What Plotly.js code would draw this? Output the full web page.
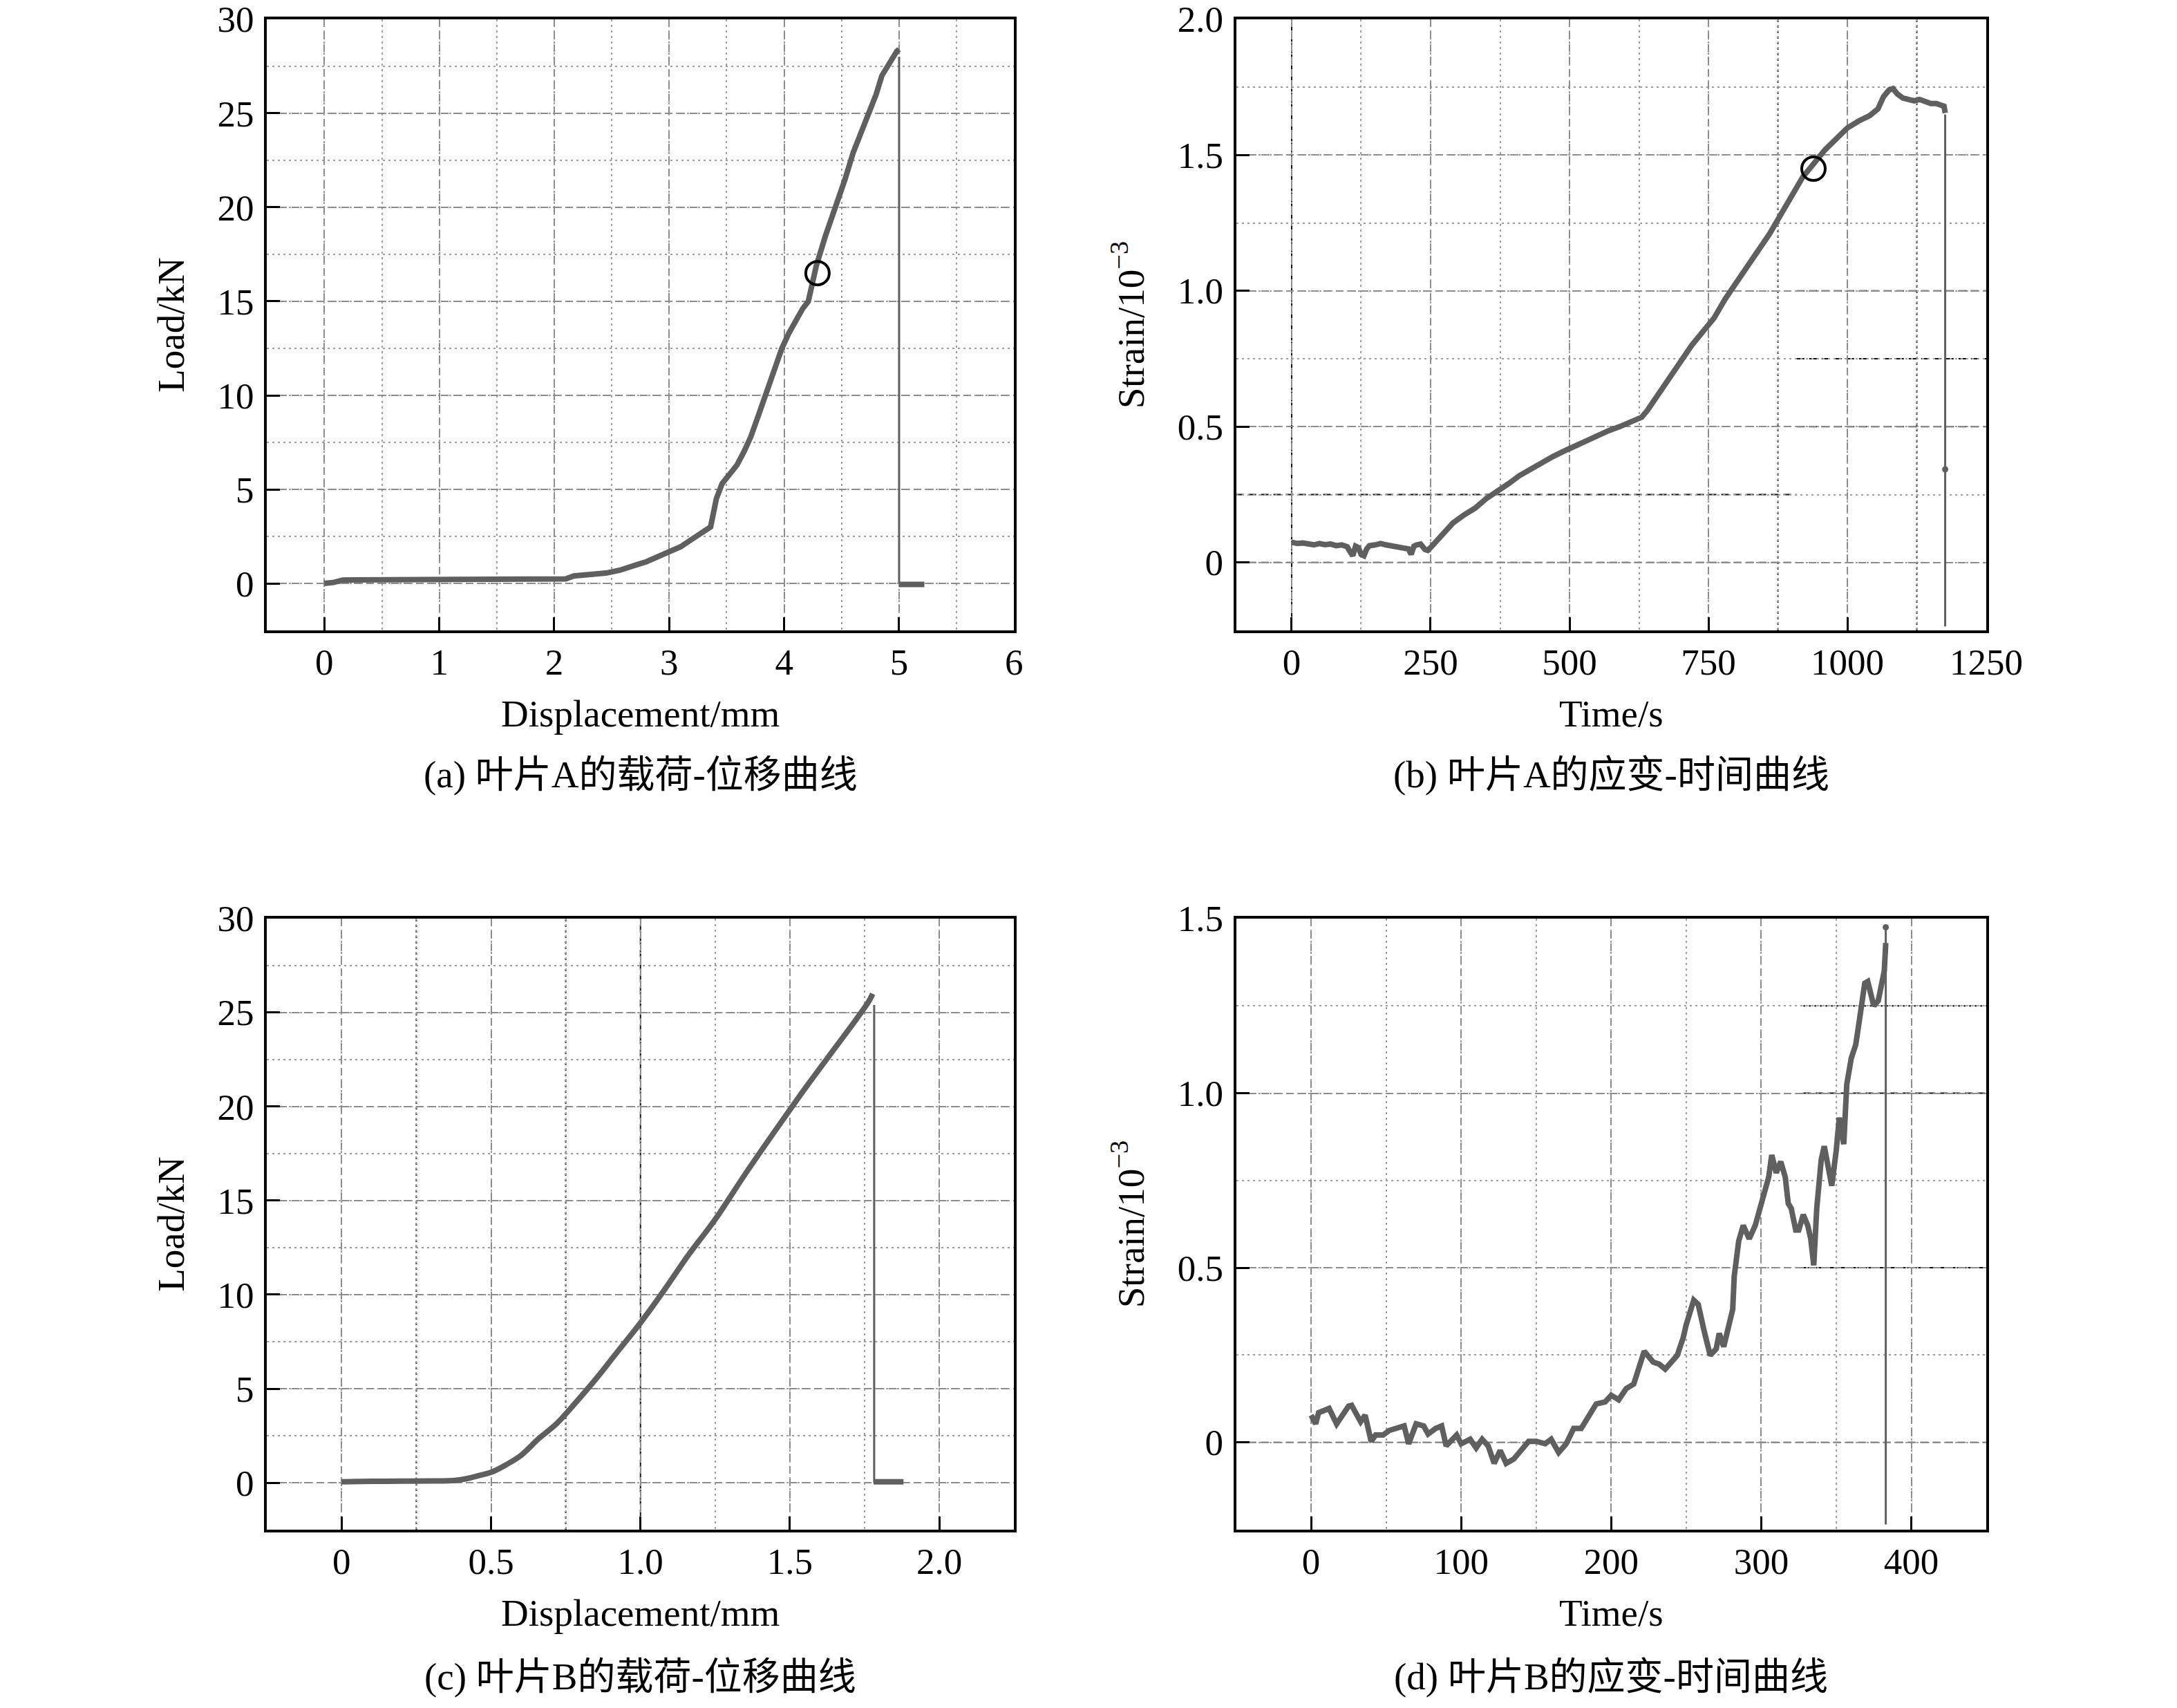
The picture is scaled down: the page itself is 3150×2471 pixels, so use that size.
<!DOCTYPE html>
<html>
<head>
<meta charset="utf-8">
<script src="https://cdn.plot.ly/plotly-3.0.1.min.js"></script>
<style>
  html, body { margin: 0; padding: 0; background: #fff; }
  #chart { width: 3150px; height: 2471px; }
</style>
</head>
<body>
<div id="chart"></div>
<script>
// (a) blade A load-displacement
const dispA = [0, 0.08, 0.16, 0.4, 0.8, 1.2, 1.6, 2.0, 2.1, 2.17, 2.3, 2.45, 2.57, 2.65, 2.72, 2.8, 2.9,
  3.02, 3.1, 3.16, 3.25, 3.36, 3.38, 3.41, 3.46, 3.52, 3.59, 3.65, 3.71, 3.78, 3.86, 3.92, 3.98, 4.04, 4.1,
  4.16, 4.21, 4.24, 4.28, 4.36, 4.45, 4.53, 4.6, 4.67, 4.73, 4.8, 4.85, 4.9, 4.95, 4.98, 5.0];
const loadA = [0, 0.05, 0.18, 0.18, 0.2, 0.2, 0.2, 0.2, 0.24, 0.4, 0.45, 0.55, 0.7, 0.82, 1.0, 1.15, 1.4,
  1.7, 1.95, 2.2, 2.6, 3.0, 3.6, 4.5, 5.3, 5.8, 6.3, 7.0, 7.8, 9.0, 10.4, 11.5, 12.5, 13.3, 14.0,
  14.6, 15.0, 15.8, 16.9, 18.5, 20.0, 21.5, 22.9, 24.0, 25.0, 26.0, 27.0, 27.5, 28.1, 28.3, 28.4];
const dropDispA = [5.0, 5.0];
const dropLoadA = [28.0, 0];
const afterDispA = [5.0, 5.22];
const afterLoadA = [-0.05, -0.05];
const markDispA = [4.29];
const markLoadA = [16.5];

// (b) blade A strain-time
const timeA = [0, 10, 20, 30, 40, 50, 60, 70, 80, 90, 100, 105, 110, 115, 120, 125, 130, 135, 140,
  150, 160, 170, 180, 190, 200, 210, 215, 220, 225, 232, 240, 245, 250,
  270, 290, 310, 330, 350, 370, 390, 410, 430, 450, 470, 490, 510, 530, 550, 570, 590, 610, 630, 640,
  660, 680, 700, 720, 740, 760, 780, 800, 820, 840, 860, 880, 900, 920, 940, 960, 980, 1000, 1020, 1040,
  1055, 1065, 1075, 1082, 1090, 1100, 1110, 1120, 1130, 1140, 1150, 1160, 1170, 1174, 1176];
const strainA = [0.075, 0.07, 0.072, 0.068, 0.065, 0.07, 0.066, 0.068, 0.062, 0.065, 0.058, 0.04, 0.025, 0.06, 0.055, 0.03, 0.025, 0.05, 0.062,
  0.065, 0.07, 0.065, 0.062, 0.06, 0.058, 0.05, 0.03, 0.06, 0.065, 0.068, 0.048, 0.045, 0.055,
  0.1, 0.145, 0.175, 0.2, 0.235, 0.26, 0.29, 0.32, 0.345, 0.37, 0.39, 0.41, 0.43, 0.45, 0.47, 0.485, 0.5, 0.515, 0.535, 0.56,
  0.62, 0.68, 0.745, 0.8, 0.85, 0.9, 0.97, 1.03, 1.09, 1.15, 1.21, 1.28, 1.35, 1.42, 1.47, 1.52, 1.56, 1.6, 1.625, 1.645,
  1.67, 1.715, 1.74, 1.745, 1.725, 1.71, 1.705, 1.7, 1.705, 1.695, 1.69, 1.69, 1.685, 1.68, 1.655];
const dropTimeA = [1176, 1176];
const dropStrainA = [1.65, -0.235];
const dotTimeA = [1176];
const dotStrainA = [0.343];
const markTimeA = [939];
const markStrainA = [1.45];

// (c) blade B load-displacement
const dispB = [0, 0.1, 0.2, 0.3, 0.38, 0.42, 0.46, 0.5, 0.55, 0.6, 0.66, 0.72, 0.78, 0.85, 0.92,
  1.0, 1.08, 1.16, 1.25, 1.35, 1.45, 1.55, 1.65, 1.72, 1.764, 1.777];
const loadB = [0.05, 0.07, 0.08, 0.09, 0.12, 0.22, 0.38, 0.55, 0.95, 1.45, 2.35, 3.15, 4.2, 5.5, 6.9,
  8.5, 10.25, 12.1, 14.0, 16.4, 18.7, 20.95, 23.1, 24.6, 25.6, 26.0];
const dropDispB = [1.782, 1.782];
const dropLoadB = [25.4, 0];
const afterDispB = [1.78, 1.88];
const afterLoadB = [0.05, 0.05];

// (d) blade B strain-time
const timeB = [0, 3, 5, 10, 12, 17, 20, 25, 27, 30, 33, 36, 40, 43, 48, 52, 58, 62, 65, 70,
  75, 78, 83, 87, 90, 97, 100, 106, 110, 114, 118, 122, 126, 130, 135, 140, 145, 150, 156, 160,
  165, 170, 175, 180, 185, 190, 196, 200, 205, 210, 215, 220, 222, 228, 232, 236, 240, 244, 248, 250,
  255, 258, 262, 266, 270, 272, 275, 279, 281, 282, 285, 288, 292, 296, 300, 305, 307, 310, 313, 316,
  318, 320, 323, 325, 328, 331, 333, 335, 337, 340, 342, 345, 347, 350, 352, 355, 357, 360, 363, 366,
  369, 371, 373, 375, 378, 380, 382, 383];
const strainB = [0.078, 0.053, 0.085, 0.091, 0.097, 0.053, 0.072, 0.104, 0.106, 0.085, 0.059, 0.078, 0.003, 0.021, 0.021, 0.034, 0.04, 0.047, -0.004, 0.053,
  0.047, 0.024, 0.04, 0.047, -0.01, 0.021, -0.004, 0.009, -0.016, 0.009, -0.01, -0.06, -0.023, -0.06, -0.048, -0.023, 0.003, 0.003, -0.004, 0.009,
  -0.029, -0.004, 0.04, 0.04, 0.072, 0.11, 0.116, 0.135, 0.122, 0.154, 0.167, 0.242, 0.261, 0.23, 0.224, 0.21, 0.23, 0.249, 0.3, 0.337,
  0.407, 0.395, 0.318, 0.249, 0.268, 0.312, 0.274, 0.356, 0.381, 0.476, 0.577, 0.621, 0.583, 0.621, 0.684, 0.76, 0.823, 0.772, 0.804, 0.76,
  0.684, 0.67, 0.608, 0.608, 0.652, 0.621, 0.583, 0.507, 0.67, 0.81, 0.848, 0.772, 0.735, 0.836, 0.93, 0.854, 1.025, 1.1, 1.139, 1.226,
  1.315, 1.32, 1.29, 1.25, 1.265, 1.30, 1.35, 1.43];
const dropTimeB = [383, 383];
const dropStrainB = [1.475, -0.235];
const dotTimeB = [383];
const dotStrainB = [1.475];

// tick labels
const loadTicks = [0, 5, 10, 15, 20, 25, 30];
const dispTicksA = [0, 1, 2, 3, 4, 5, 6];
const timeTicksA = [0, 250, 500, 750, 1000, 1250];
const strainTicksA = [0, 0.5, 1.0, 1.5, 2.0];
const strainTextA = ["0", "0.5", "1.0", "1.5", "2.0"];
const dispTicksB = [0, 0.5, 1.0, 1.5, 2.0];
const dispTextB = ["0", "0.5", "1.0", "1.5", "2.0"];
const timeTicksB = [0, 100, 200, 300, 400];
const strainTicksB = [0, 0.5, 1.0, 1.5];
const strainTextB = ["0", "0.5", "1.0", "1.5"];

const captions = [
  "(a) 叶片A的载荷-位移曲线",
  "(b) 叶片A的应变-时间曲线",
  "(c) 叶片B的载荷-位移曲线",
  "(d) 叶片B的应变-时间曲线"
];

const FONT = "Liberation Serif, Times New Roman, Noto Sans CJK SC, serif";
const CURVE = "#5f5f5f";
const MAJOR_DASH = "11px,7px";
const MINOR_DASH = "3px,5px";

function curve(x, y, ax, width, shape) {
  return {
    x: x, y: y, xaxis: "x" + ax, yaxis: "y" + ax,
    type: "scatter", mode: "lines",
    line: { color: CURVE, width: width || 8, shape: shape || "linear" },
    hoverinfo: "skip", showlegend: false
  };
}
function dots(x, y, ax) {
  return {
    x: x, y: y, xaxis: "x" + ax, yaxis: "y" + ax,
    type: "scatter", mode: "markers",
    marker: { color: CURVE, size: 9 },
    hoverinfo: "skip", showlegend: false
  };
}
function ring(x, y, ax) {
  return {
    x: x, y: y, xaxis: "x" + ax, yaxis: "y" + ax,
    type: "scatter", mode: "markers",
    marker: { symbol: "circle-open", size: 34, color: "#000", line: { width: 4, color: "#000" } },
    hoverinfo: "skip", showlegend: false
  };
}

function axis(opts) {
  return {
    domain: opts.domain,
    anchor: opts.anchor,
    range: opts.range,
    tickmode: "array",
    tickvals: opts.tickvals,
    ticktext: opts.ticktext,
    ticks: "inside",
    ticklen: 19,
    tickwidth: 3,
    tickcolor: "#000",
    ticklabelstandoff: opts.standoff,
    ticklabeloverflow: "allow",
    showline: true,
    linecolor: "#000",
    linewidth: 4,
    mirror: true,
    zeroline: false,
    showgrid: true,
    gridcolor: "#8c8c8c",
    gridwidth: 2,
    griddash: MAJOR_DASH,
    minor: {
      tickmode: "linear",
      tick0: opts.tick0,
      dtick: opts.minor,
      showgrid: true,
      gridcolor: "#9c9c9c",
      gridwidth: 2,
      griddash: MINOR_DASH,
      ticks: ""
    },
    tickfont: { family: FONT, size: 53, color: "#000" },
    title: { text: opts.title, font: { family: FONT, size: 55, color: "#000" }, standoff: opts.titleStandoff }
  };
}

// grid lines that print darker in the scanned figure
function darkV(ax, x, dash) {
  return { type: "line", layer: "below", xref: "x" + ax, yref: "y" + ax + " domain",
    x0: x, x1: x, y0: 0, y1: 1, line: { color: "#111", width: 2, dash: dash } };
}
function darkH(ax, y, x0, x1, dash) {
  return { type: "line", layer: "below", xref: "x" + ax, yref: "y" + ax,
    x0: x0, x1: x1, y0: y, y1: y, line: { color: "#111", width: 2, dash: dash } };
}

const shapes = [
  darkV("2", 0, MAJOR_DASH),
  darkV("2", 875, MINOR_DASH),
  darkV("2", 1125, MINOR_DASH),
  darkH("2", 0, -100, 909, MAJOR_DASH),
  darkH("2", 0.25, -100, 909, MAJOR_DASH),
  darkH("2", 0.5, 909, 1250, MAJOR_DASH),
  darkH("2", 0.75, 909, 1250, MAJOR_DASH),
  darkH("2", 1.0, 909, 1250, MAJOR_DASH),

  darkV("3", 1.0, MAJOR_DASH),
  darkV("3", 0.25, MINOR_DASH),
  darkV("3", 0.75, MINOR_DASH),
  darkH("3", 5, -0.25, 2.25, MAJOR_DASH),
  darkH("3", 15, -0.25, 2.25, MAJOR_DASH),
  darkH("3", 25, -0.25, 2.25, MAJOR_DASH),
  darkH("3", 7.5, -0.25, 2.25, MINOR_DASH),

  darkH("4", 0, -50, 450, MAJOR_DASH),
  darkH("4", 0.5, 328, 450, MAJOR_DASH),
  darkH("4", 1.0, 328, 450, MAJOR_DASH),
  darkH("4", 1.25, 328, 450, MINOR_DASH)
];

const data = [
  curve(dispA, loadA, ""),
  curve(dropDispA, dropLoadA, "", 3),
  curve(afterDispA, afterLoadA, ""),
  ring(markDispA, markLoadA, ""),

  curve(timeA, strainA, "2"),
  curve(dropTimeA, dropStrainA, "2", 3),
  dots(dotTimeA, dotStrainA, "2"),
  ring(markTimeA, markStrainA, "2"),

  curve(dispB, loadB, "3", 8, "spline"),
  curve(dropDispB, dropLoadB, "3", 3),
  curve(afterDispB, afterLoadB, "3"),

  curve(timeB, strainB, "4"),
  curve(dropTimeB, dropStrainB, "4", 3),
  dots(dotTimeB, dotStrainB, "4")
];

const colL = [0.1226, 0.4658];
const colR = [0.5678, 0.9124];
const rowT = [0.6309, 0.9887];
const rowB = [0.1044, 0.4622];
const captionY = [-0.236, -0.236, -0.24, -0.24];

const layout = {
  width: 3150,
  height: 2471,
  margin: { l: 0, r: 0, t: 0, b: 0 },
  paper_bgcolor: "#fff",
  plot_bgcolor: "#fff",
  font: { family: FONT, color: "#000" },
  showlegend: false,
  xaxis: axis({ domain: colL, anchor: "y", range: [-0.5, 6], tickvals: dispTicksA, ticktext: dispTicksA.map(String),
    tick0: 0, minor: 0.5, standoff: -4, title: "Displacement/mm", titleStandoff: 28 }),
  yaxis: axis({ domain: rowT, anchor: "x", range: [-2.5, 30], tickvals: loadTicks, ticktext: loadTicks.map(String),
    tick0: 0, minor: 2.5, standoff: 4, title: "Load/kN", titleStandoff: 31 }),
  xaxis2: axis({ domain: colR, anchor: "y2", range: [-100, 1250], tickvals: timeTicksA, ticktext: timeTicksA.map(String),
    tick0: 0, minor: 125, standoff: -4, title: "Time/s", titleStandoff: 28 }),
  yaxis2: axis({ domain: rowT, anchor: "x2", range: [-0.25, 2.0], tickvals: strainTicksA, ticktext: strainTextA,
    tick0: 0, minor: 0.25, standoff: 4, title: "Strain/10<sup>−3</sup>", titleStandoff: 31 }),
  xaxis3: axis({ domain: colL, anchor: "y3", range: [-0.25, 2.25], tickvals: dispTicksB, ticktext: dispTextB,
    tick0: 0, minor: 0.25, standoff: -4, title: "Displacement/mm", titleStandoff: 28 }),
  yaxis3: axis({ domain: rowB, anchor: "x3", range: [-2.5, 30], tickvals: loadTicks, ticktext: loadTicks.map(String),
    tick0: 0, minor: 2.5, standoff: 4, title: "Load/kN", titleStandoff: 31 }),
  xaxis4: axis({ domain: colR, anchor: "y4", range: [-50, 450], tickvals: timeTicksB, ticktext: timeTicksB.map(String),
    tick0: 0, minor: 50, standoff: -4, title: "Time/s", titleStandoff: 28 }),
  yaxis4: axis({ domain: rowB, anchor: "x4", range: [-0.25, 1.5], tickvals: strainTicksB, ticktext: strainTextB,
    tick0: 0, minor: 0.25, standoff: 4, title: "Strain/10<sup>−3</sup>", titleStandoff: 31 }),
  shapes: shapes,
  annotations: captions.map((text, i) => {
    const n = i === 0 ? "" : String(i + 1);
    return {
      text: text,
      xref: "x" + n + " domain",
      yref: "y" + n + " domain",
      x: 0.5,
      y: captionY[i],
      xanchor: "center",
      yanchor: "middle",
      showarrow: false,
      font: { family: FONT, size: 55, color: "#000" }
    };
  })
};

Plotly.newPlot("chart", data, layout, { displayModeBar: false, staticPlot: true });
</script>
</body>
</html>
